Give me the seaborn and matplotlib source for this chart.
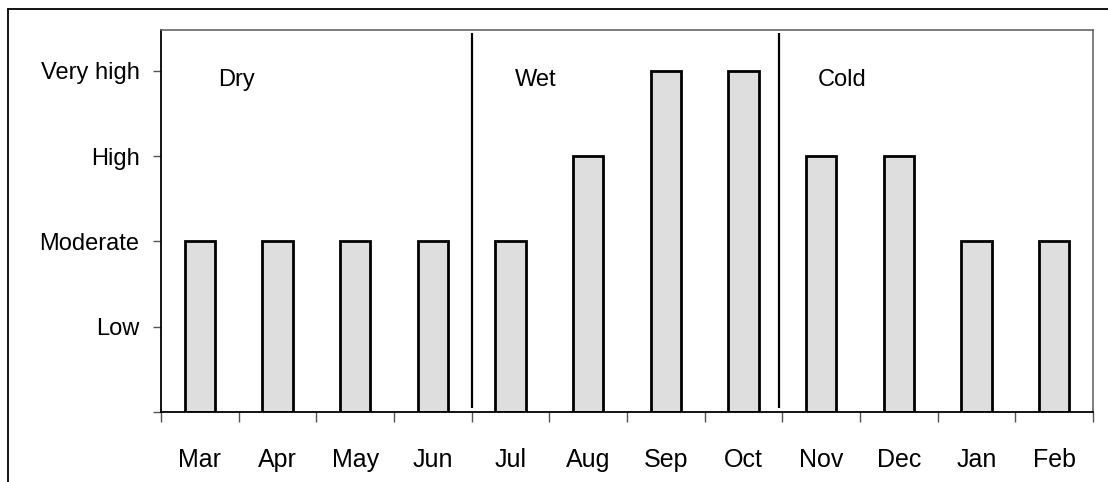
import matplotlib
matplotlib.use("Agg")
import matplotlib.pyplot as plt
import seaborn as sns
import pandas as pd
from matplotlib.lines import Line2D

months = ["Mar", "Apr", "May", "Jun", "Jul", "Aug", "Sep", "Oct", "Nov", "Dec", "Jan", "Feb"]
levels = [2, 2, 2, 2, 2, 3, 4, 4, 3, 3, 2, 2]
level_labels = ["Low", "Moderate", "High", "Very high"]
level_ticks = [1, 2, 3, 4]
seasons = ["Dry", "Wet", "Cold"]
season_text_x = [0.23, 4.06, 7.95]
season_dividers = [3.5, 7.46]

sns.set_theme(style="white")
plt.rcParams["font.family"] = ["Liberation Sans", "DejaVu Sans"]
plt.rcParams["text.color"] = "black"
plt.rcParams["xtick.color"] = "black"
plt.rcParams["ytick.color"] = "black"
plt.rcParams["xtick.labelcolor"] = "black"
plt.rcParams["ytick.labelcolor"] = "black"

df = pd.DataFrame({"month": months, "level": levels})

fig = plt.figure(figsize=(11.08, 4.82), dpi=100)
ax = fig.add_axes([161/1108, 70/482, (1093-161)/1108, (412-30)/482])

sns.barplot(data=df, x="month", y="level", order=months, color="#dedede",
            saturation=1, width=0.39, edgecolor="black", linewidth=2.0, ax=ax)

ax.set_xlim(-0.5, len(months) - 0.5)
ax.set_ylim(0, 4.48)
ax.set_xlabel("")
ax.set_ylabel("")

ax.set_yticks([0] + level_ticks)
ax.set_yticklabels([""] + level_labels, fontsize=17, color="black")
ax.set_xticks([i for i in range(len(months))])
ax.set_xticklabels(months, fontsize=18, color="black")
ax.set_xticks([i - 0.5 for i in range(len(months) + 1)], minor=True)
ax.tick_params(axis="x", which="major", length=0, pad=26)
ax.tick_params(axis="x", which="minor", length=7, width=1, color="#555555", direction="out", bottom=True)
ax.tick_params(axis="y", which="major", length=6, width=1, color="#555555", direction="out", left=True, pad=9.5)

for side in ["left", "bottom"]:
    ax.spines[side].set_color("black")
    ax.spines[side].set_linewidth(1.3)
for side in ["top", "right"]:
    ax.spines[side].set_visible(True)
    ax.spines[side].set_color("#666666")
    ax.spines[side].set_linewidth(1.2)

for xd in season_dividers:
    ax.plot([xd, xd], [0.05, 4.45], color="black", linewidth=1.6, solid_capstyle="butt")

for name, xt in zip(seasons, season_text_x):
    ax.text(xt, 3.89, name, fontsize=17, ha="left", va="center", color="black")

# outer frame
fig.add_artist(Line2D([7.5/1108, 7.5/1108], [0, 1 - 9/482], transform=fig.transFigure, color="black", linewidth=1.3))
fig.add_artist(Line2D([7.5/1108, 1], [1 - 9/482, 1 - 9/482], transform=fig.transFigure, color="black", linewidth=1.3))

fig.savefig("out.png", dpi=100)
